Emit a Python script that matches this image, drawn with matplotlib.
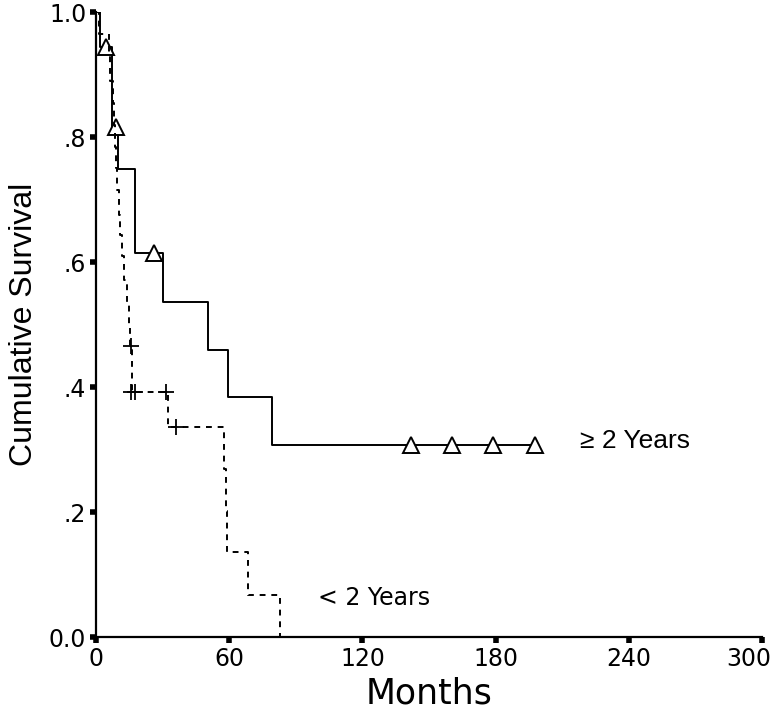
import numpy as np
import matplotlib
matplotlib.use("Agg")
import matplotlib.pyplot as plt
import matplotlib.transforms as mtrans
from matplotlib import font_manager

# >= 2 years group (solid): step times (months) and survival after each step
long_t = [0, 1.8, 7.0, 10.0, 17.6, 30.0, 50.5, 59.5, 79.5, 198.0]
long_s = [1.0, 0.944, 0.816, 0.749, 0.614, 0.536, 0.460, 0.384, 0.307, 0.307]
long_cens_t = [4.5, 9.0, 26.0, 142.0, 160.4, 178.8, 197.7]
long_cens_s = [0.944, 0.816, 0.614, 0.307, 0.307, 0.307, 0.307]

# < 2 years group (dashed)
short_t = [0, 1.5, 6.0, 6.5, 7.5, 8.0, 8.5, 9.0, 9.5, 10.4, 10.8, 11.7, 12.6,
           14.0, 14.9, 15.4, 16.2, 32.3, 57.5, 58.5, 59.2, 68.5, 83.0]
short_s = [1.0, 0.965, 0.930, 0.890, 0.855, 0.820, 0.785, 0.750, 0.715, 0.675,
           0.643, 0.610, 0.571, 0.534, 0.499, 0.466, 0.392, 0.336, 0.269,
           0.202, 0.136, 0.068, 0.0]
short_cens_t = [15.8, 16.0, 17.6, 31.5, 36.0]
short_cens_s = [0.466, 0.392, 0.392, 0.392, 0.336]

xticks = [0, 60, 120, 180, 240, 300]
yticks = [0.0, 0.2, 0.4, 0.6, 0.8, 1.0]
ylabels = ["0.0", ".2", ".4", ".6", ".8", "1.0"]

# narrow face for the tick labels if one is installed
narrow = "DejaVu Sans"
names = {f.name for f in font_manager.fontManager.ttflist}
for cand in ["Liberation Sans Narrow", "DejaVu Sans Condensed"]:
    if cand in names:
        narrow = cand
        break

fig = plt.figure(figsize=(7.74, 7.15), dpi=100)
ax = fig.add_axes([0.124, 0.109, 0.8605, 0.874])

ax.step(long_t, long_s, where="post", color="black", lw=1.4)
ax.plot(long_cens_t, long_cens_s, linestyle="none", marker="^", ms=11,
        mfc="white", mec="black", mew=1.4)

ax.step(short_t, short_s, where="post", color="black", lw=1.4,
        linestyle=(0, (3, 3)))
ax.plot(short_cens_t, short_cens_s, linestyle="none", marker="+", ms=11,
        color="black", mew=1.3)

ax.text(218, 0.313, "\u2265 2 Years", fontsize=19, va="center", ha="left",
        family="Liberation Sans")
ax.text(100, 0.062, "< 2 Years", fontsize=17, va="center", ha="left",
        family=narrow)

ax.set_xlim(0, 300)
ax.set_ylim(0, 1.0)
ax.set_xticks(xticks)
ax.set_yticks(yticks)
ax.set_yticklabels(ylabels)

for side in ["top", "right"]:
    ax.spines[side].set_visible(False)
for side in ["left", "bottom"]:
    ax.spines[side].set_linewidth(1.6)

ax.tick_params(direction="out", length=4, width=4, labelsize=17, pad=3)
for lab in ax.get_xticklabels() + ax.get_yticklabels():
    lab.set_family(narrow)

# keep the last x label inside the canvas
last = ax.get_xticklabels()[-1]
last.set_transform(last.get_transform() +
                   mtrans.ScaledTranslation(-13 / 100, 0, fig.dpi_scale_trans))

ax.set_xlabel("Months", fontsize=25, family=narrow, labelpad=4)
ax.set_ylabel("Cumulative Survival", fontsize=23, family="Liberation Sans",
              labelpad=7)

fig.savefig("out.png", dpi=100)
